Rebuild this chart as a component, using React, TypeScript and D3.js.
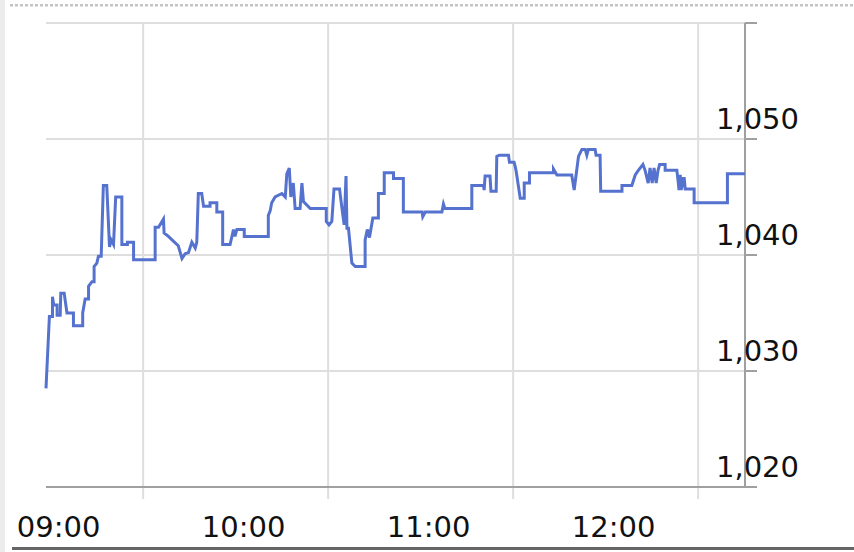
import { useEffect, useRef } from "react";
import * as d3 from "d3";

// minutes after 09:00 and traded price
const MINUTES = [
  -1.5, -0.4, 0.6, 0.6, 1.0, 2.1, 2.1, 3.1, 3.3, 4.4, 5.3, 7.4, 7.4, 10.4, 10.4, 11.2, 12.3, 12.3, 13.4, 14.1,
  14.1, 15.0, 15.5, 16.4, 17.1, 18.2, 19.1, 19.6, 20.4, 21.1, 23.1, 23.1, 24.9, 24.9, 26.9, 26.9, 33.9, 33.9, 35.0, 36.6,
  36.8, 38.2, 39.8, 41.4, 42.6, 43.6, 44.7, 45.8, 46.9, 47.4, 47.9, 49.0, 49.6, 51.7, 51.7, 53.9, 53.9, 55.8, 55.8, 58.2,
  59.3, 59.8, 60.4, 62.8, 62.8, 70.6, 70.6, 71.2, 71.7, 72.8, 75.0, 76.1, 76.6, 77.4, 77.9, 78.7, 79.3, 80.9, 81.5, 82.0,
  84.2, 89.4, 89.4, 90.3, 91.2, 91.9, 93.7, 94.4, 95.2, 95.8, 96.1, 96.6, 97.7, 98.8, 102.0, 102.0, 102.7, 103.4, 104.5, 106.3,
  106.3, 108.2, 108.2, 111.2, 111.2, 114.4, 114.4, 120.5, 120.7, 121.5, 126.9, 127.4, 127.9, 136.6, 136.6, 140.4, 140.6, 140.9, 142.5, 142.8,
  144.5, 144.7, 145.5, 148.5, 148.8, 150.3, 150.7, 151.0, 152.3, 153.6, 153.6, 155.3, 155.3, 163.1, 163.1, 164.2, 169.0, 169.8, 171.2, 172.3,
  173.4, 173.9, 174.4, 176.6, 176.9, 178.2, 178.4, 185.3, 185.3, 188.5, 189.6, 190.6, 192.1, 192.8, 193.8, 194.4, 195.1, 195.7, 196.4, 197.0,
  197.5, 199.3, 199.3, 203.1, 203.5, 203.8, 204.2, 204.5, 205.2, 205.5, 205.8, 208.7, 208.7, 219.5, 219.5, 225.2,
];
const PRICES = [
  1028.5, 1034.7, 1034.7, 1036.4, 1035.7, 1035.7, 1034.8, 1034.8, 1036.7, 1036.7, 1035.0, 1035.0, 1033.9, 1033.9, 1035.0, 1036.2, 1036.2, 1037.3, 1037.7, 1037.7,
  1039.0, 1039.3, 1039.9, 1039.9, 1046.0, 1046.0, 1040.7, 1041.3, 1040.9, 1045.0, 1045.0, 1040.9, 1040.9, 1041.1, 1041.1, 1039.6, 1039.6, 1042.4, 1042.4, 1043.1,
  1041.9, 1041.6, 1041.2, 1040.8, 1039.7, 1040.1, 1040.2, 1041.1, 1040.6, 1041.1, 1045.3, 1045.3, 1044.2, 1044.2, 1044.5, 1044.5, 1043.7, 1043.7, 1040.9, 1040.9,
  1042.2, 1041.6, 1042.2, 1042.2, 1041.6, 1041.6, 1043.4, 1043.8, 1044.5, 1045.0, 1045.3, 1045.0, 1047.0, 1047.5, 1045.0, 1046.2, 1044.0, 1044.0, 1046.2, 1044.6,
  1044.0, 1044.0, 1042.9, 1042.6, 1042.9, 1045.7, 1045.7, 1044.2, 1042.6, 1046.8, 1042.3, 1042.3, 1039.3, 1039.0, 1039.0, 1041.3, 1042.2, 1041.5, 1043.2, 1043.2,
  1045.3, 1045.3, 1047.1, 1047.1, 1046.6, 1046.6, 1043.7, 1043.7, 1043.3, 1043.7, 1043.7, 1044.4, 1044.0, 1044.0, 1046.0, 1046.0, 1045.6, 1046.8, 1046.8, 1045.5,
  1045.5, 1048.5, 1048.6, 1048.6, 1048.0, 1048.0, 1047.6, 1047.2, 1044.9, 1044.9, 1046.2, 1046.2, 1047.1, 1047.1, 1047.4, 1046.9, 1046.9, 1045.6, 1048.5, 1049.1,
  1049.1, 1048.6, 1049.1, 1049.1, 1048.6, 1048.6, 1045.5, 1045.5, 1046.0, 1046.0, 1046.9, 1047.3, 1047.8, 1047.3, 1046.2, 1047.5, 1046.2, 1047.5, 1046.2, 1047.3,
  1047.8, 1047.8, 1047.3, 1047.3, 1046.4, 1045.6, 1046.9, 1045.6, 1046.6, 1046.6, 1045.7, 1045.7, 1044.5, 1044.5, 1047.0, 1047.0,
];

const PRICE_TICKS = [1020, 1030, 1040, 1050];
const PRICE_GRID = [1020, 1030, 1040, 1050, 1060];
const HOUR_MINUTES = [0, 60, 120, 180];
const HOUR_LABELS = ["09:00", "10:00", "11:00", "12:00"];
const GRID_MINUTES = [30, 90, 150, 210];

const W = 854;
const H = 552;
const FONT = "'DejaVu Sans', Verdana, sans-serif";

export default function App() {
  const ref = useRef<SVGSVGElement | null>(null);

  useEffect(() => {
    if (!ref.current) return;
    const svg = d3.select(ref.current);
    svg.selectAll("*").remove();

    const left = 46;
    const right = 745;
    const top = 23;
    const bottom = 487;

    const x = d3.scaleLinear().domain([-1.5, 225.2]).range([left, right]);
    const y = d3.scaleLinear().domain([1020, 1060]).range([bottom, top]);

    svg.append("rect").attr("width", W).attr("height", H).attr("fill", "#fff");
    // page chrome
    svg.append("rect").attr("x", 0).attr("y", 0).attr("width", 5).attr("height", H).attr("fill", "#ececec");
    svg
      .append("line")
      .attr("x1", 10)
      .attr("x2", W)
      .attr("y1", 5.3)
      .attr("y2", 5.3)
      .attr("stroke", "#c4c4c4")
      .attr("stroke-width", 2.5)
      .attr("stroke-dasharray", "3,2");
    svg
      .append("line")
      .attr("x1", 12)
      .attr("x2", W)
      .attr("y1", 548.5)
      .attr("y2", 548.5)
      .attr("stroke", "#666")
      .attr("stroke-width", 3);

    // grid
    const grid = svg.append("g").attr("stroke", "#dedede").attr("stroke-width", 2);
    grid
      .selectAll("line.h")
      .data(PRICE_GRID.filter((p) => p !== 1020))
      .join("line")
      .attr("class", "h")
      .attr("x1", left)
      .attr("x2", right)
      .attr("y1", (d) => y(d))
      .attr("y2", (d) => y(d));
    grid
      .selectAll("line.v")
      .data(GRID_MINUTES)
      .join("line")
      .attr("class", "v")
      .attr("x1", (d) => x(d))
      .attr("x2", (d) => x(d))
      .attr("y1", top)
      .attr("y2", bottom + 12);

    // axes
    const axis = svg.append("g").attr("stroke", "#a0a0a0").attr("stroke-width", 2);
    axis.append("line").attr("x1", left).attr("x2", right + 12).attr("y1", bottom).attr("y2", bottom);
    axis.append("line").attr("x1", right).attr("x2", right).attr("y1", top).attr("y2", bottom);
    axis
      .selectAll("line.t")
      .data(PRICE_GRID)
      .join("line")
      .attr("class", "t")
      .attr("x1", right)
      .attr("x2", right + 12)
      .attr("y1", (d) => y(d))
      .attr("y2", (d) => y(d));

    // price line
    const pts = MINUTES.map((m, i) => [m, PRICES[i]] as [number, number]);
    svg
      .append("path")
      .datum(pts)
      .attr("fill", "none")
      .attr("stroke", "#5572cf")
      .attr("stroke-width", 3)
      .attr("stroke-linejoin", "miter")
      .attr(
        "d",
        d3
          .line<[number, number]>()
          .x((d) => x(d[0]))
          .y((d) => y(d[1]))
      );

    // labels
    svg
      .append("g")
      .attr("font-family", FONT)
      .attr("font-size", 29)
      .attr("fill", "#111")
      .selectAll("text")
      .data(PRICE_TICKS)
      .join("text")
      .attr("x", 716)
      .attr("y", (d) => y(d) - 10)
      .text((d) => d3.format(",")(d));

    svg
      .append("g")
      .attr("font-family", FONT)
      .attr("font-size", 29)
      .attr("fill", "#111")
      .attr("text-anchor", "middle")
      .selectAll("text")
      .data(HOUR_MINUTES)
      .join("text")
      .attr("x", (d) => x(d) + 8)
      .attr("y", 537)
      .text((_, i) => HOUR_LABELS[i]);
  }, []);

  return (
    <div style={{ position: "absolute", left: 0, top: 0 }}>
      <svg ref={ref} width={W} height={H} style={{ display: "block" }} />
    </div>
  );
}
